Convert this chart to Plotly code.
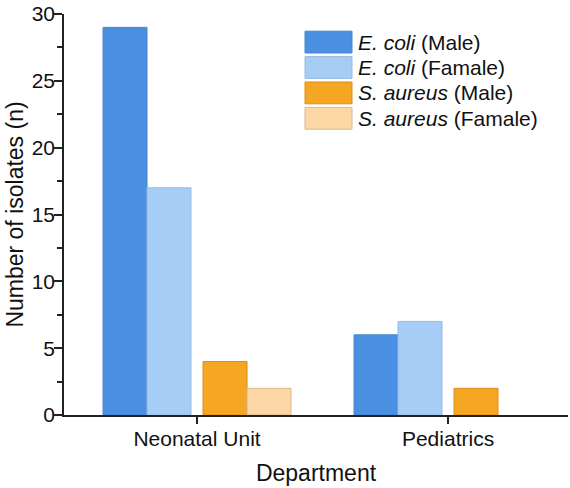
import plotly.graph_objects as go

departments = ["Neonatal Unit", "Pediatrics"]
series_names = ["<i>E. coli</i> (Male)", "<i>E. coli</i> (Famale)",
                "<i>S. aureus</i> (Male)", "<i>S. aureus</i> (Famale)"]
ecoli_male = [29, 6]
ecoli_female = [17, 7]
saureus_male = [4, 2]
saureus_female = [2, 0]
series_values = [ecoli_male, ecoli_female, saureus_male, saureus_female]

fill_colors = ["#4A90E2", "#A6CDF5", "#F5A623", "#FDD6A6"]
line_colors = ["#4A86CF", "#95BCE3", "#D9901A", "#D9B98E"]

W, H = 570, 488
L, R, T, B = 64, 2, 11, 73
pw, ph = W - L - R, H - T - B
unit = pw / 2.008  # px per category

bar_w = 44 / unit
offsets = [-94 / unit, -50 / unit, 6 / unit, 50 / unit]

FONT = "Arial, Liberation Sans, sans-serif"

fig = go.Figure()
for name, vals, fc, lc, off in zip(series_names, series_values, fill_colors, line_colors, offsets):
    fig.add_trace(go.Bar(
        x=departments, y=vals, name=name,
        marker=dict(color=fc, line=dict(color=lc, width=[1 if v else 0 for v in vals])),
        width=bar_w, offset=off, showlegend=False,
    ))

# custom legend (large swatches)
def px_x(px):
    return (px - L) / pw

def px_y(py):
    return (T + ph - py) / ph

row_top = 28.3
pitch = 25.6
sw_h = 22
for i, (name, fc, lc) in enumerate(zip(series_names, fill_colors, line_colors)):
    top = row_top + i * pitch
    fig.add_shape(type="rect", xref="paper", yref="paper",
                  x0=px_x(305), x1=px_x(352), y0=px_y(top + sw_h), y1=px_y(top),
                  fillcolor=fc, line=dict(color=lc, width=1))
    fig.add_annotation(xref="paper", yref="paper", x=px_x(356), y=px_y(top + sw_h / 2),
                       text=name, showarrow=False, xanchor="left", yanchor="middle",
                       font=dict(family=FONT, size=21, color="#111"))

fig.update_layout(
    width=W, height=H,
    margin=dict(l=L, r=R, t=T, b=B, pad=0),
    barmode="overlay",
    plot_bgcolor="white", paper_bgcolor="white",
    font=dict(family=FONT, size=21, color="#111"),
    xaxis=dict(
        type="category", range=[-0.53, 1.478],
        showline=True, linecolor="#222", linewidth=1.5,
        ticks="outside", ticklen=7, tickwidth=1.5, tickcolor="#222",
        showgrid=False, zeroline=False,
        tickfont=dict(size=21), ticklabelstandoff=-3,
        title=dict(text="Department", font=dict(size=23), standoff=16),
    ),
    yaxis=dict(
        range=[0, 30], dtick=5, tick0=0,
        showline=True, linecolor="#222", linewidth=1.5,
        ticks="outside", ticklen=8, tickwidth=1.5, tickcolor="#222",
        minor=dict(dtick=2.5, ticks="outside", ticklen=5, tickwidth=1.5, tickcolor="#222", showgrid=False),
        showgrid=False, zeroline=False,
        tickfont=dict(size=21), ticklabelstandoff=-5, ticklabeloverflow="allow",
        title=dict(text="Number of isolates (n)", font=dict(size=23), standoff=2),
    ),
)

fig.write_html("out.html")
